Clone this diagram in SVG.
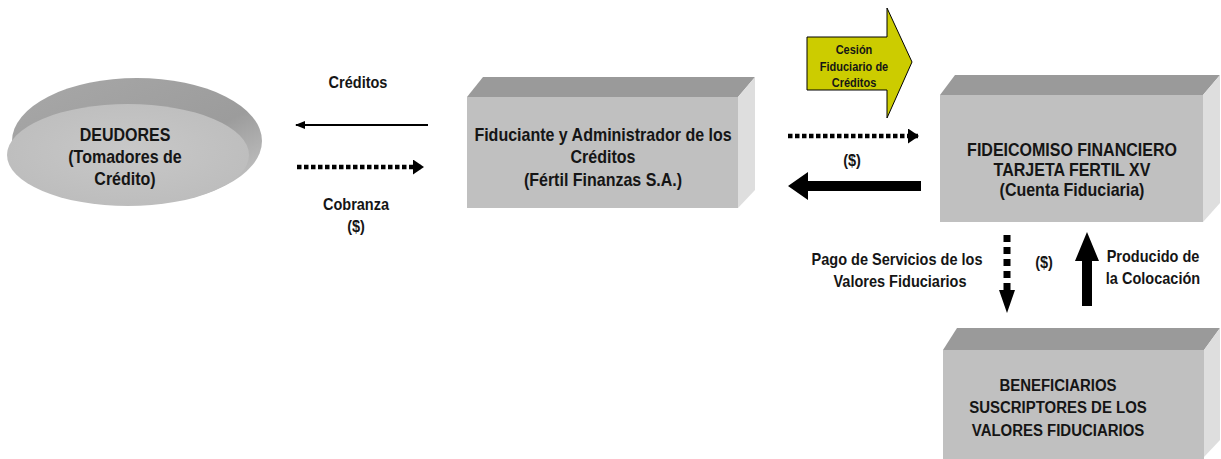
<svg xmlns="http://www.w3.org/2000/svg" width="1221" height="459" viewBox="0 0 1221 459">
<defs>
<linearGradient id="rim" x1="0" y1="0" x2="1" y2="1">
<stop offset="0" stop-color="#a8a8a8"/>
<stop offset="0.6" stop-color="#9c9c9c"/>
<stop offset="1" stop-color="#d0d0d0"/>
</linearGradient>
<radialGradient id="face" cx="0.5" cy="0.45" r="0.6">
<stop offset="0" stop-color="#c8c8c8"/>
<stop offset="1" stop-color="#bcbcbc"/>
</radialGradient>
<marker id="hSmall" viewBox="0 0 10 10" refX="9" refY="5" markerWidth="10" markerHeight="10" markerUnits="userSpaceOnUse" orient="auto">
<path d="M0,1 L10,5 L0,9 Z" fill="#000"/>
</marker>
<marker id="hDot" viewBox="0 0 11 15" refX="10" refY="7.5" markerWidth="11" markerHeight="15" markerUnits="userSpaceOnUse" orient="auto">
<path d="M0,0 L11,7.5 L0,15 Z" fill="#000"/>
</marker>
</defs>
<style>
text{font-family:"Liberation Sans",Arial,sans-serif;font-weight:bold;fill:#151515;text-anchor:middle}
.n{font-size:18.2px}
.b{font-size:17px}
.l{font-size:16.5px}
.y{font-size:12.5px}
.top{fill:#9a9a9a}
.front{fill:#c0c0c0}
.side{fill:#dedede}
.dot{stroke:#000;stroke-width:4.5;stroke-dasharray:4.5 2.5;fill:none}
</style>

<g id="deudores">
<ellipse cx="137" cy="141" rx="125" ry="63" fill="url(#rim)"/>
<ellipse cx="128" cy="155" rx="121" ry="51" fill="url(#face)"/>
<text class="n" transform="matrix(0.88 0 0 1 125 0)" x="0" y="141">DEUDORES</text>
<text class="n" transform="matrix(0.88 0 0 1 125 0)" x="0" y="163">(Tomadores de</text>
<text class="n" transform="matrix(0.88 0 0 1 125 0)" x="0" y="185">Crédito)</text>
</g>

<g id="fiduciante">
<path class="top" d="M467,97 L483,77 L755,77 L738,97 Z"/>
<path class="front" d="M467,97 L738,97 L738,208 L467,208 Z"/>
<path class="side" d="M738,97 L755,77 L755,190 L738,208 Z"/>
<text class="n" transform="matrix(0.88 0 0 1 603 0)" x="0" y="141">Fiduciante y Administrador de los</text>
<text class="n" transform="matrix(0.88 0 0 1 603 0)" x="0" y="163">Créditos</text>
<text class="n" transform="matrix(0.88 0 0 1 603 0)" x="0" y="186">(Fértil Finanzas S.A.)</text>
</g>

<g id="fideicomiso">
<path class="top" d="M940,95 L955,75 L1220,75 L1203,95 Z"/>
<path class="front" d="M940,95 L1203,95 L1203,222 L940,222 Z"/>
<path class="side" d="M1203,95 L1220,75 L1220,203 L1203,222 Z"/>
<text class="n" transform="matrix(0.88 0 0 1 1072 0)" x="0" y="156">FIDEICOMISO FINANCIERO</text>
<text class="n" transform="matrix(0.88 0 0 1 1072 0)" x="0" y="176">TARJETA FERTIL XV</text>
<text class="n" transform="matrix(0.88 0 0 1 1072 0)" x="0" y="196">(Cuenta Fiduciaria)</text>
</g>

<g id="beneficiarios">
<path class="top" d="M943,350 L957,328 L1220,328 L1204,350 Z"/>
<path class="front" d="M943,350 L1204,350 L1204,459 L943,459 Z"/>
<path class="side" d="M1204,350 L1220,328 L1220,440 L1204,457 Z"/>
<text class="b" transform="matrix(0.88 0 0 1 1058 0)" x="0" y="391">BENEFICIARIOS</text>
<text class="b" transform="matrix(0.88 0 0 1 1058 0)" x="0" y="413">SUSCRIPTORES DE LOS</text>
<text class="b" transform="matrix(0.88 0 0 1 1058 0)" x="0" y="436">VALORES FIDUCIARIOS</text>
</g>

<g id="cesion">
<path d="M807,37 L887,37 L887,8 L912,62 L887,118 L887,90 L807,90 Z" fill="#cccc00" stroke="#000" stroke-width="1"/>
<text class="y" transform="matrix(0.88 0 0 1 854 0)" x="0" y="54">Cesión</text>
<text class="y" transform="matrix(0.88 0 0 1 854 0)" x="0" y="71">Fiduciario de</text>
<text class="y" transform="matrix(0.88 0 0 1 854 0)" x="0" y="87">Créditos</text>
</g>

<g id="connectors">
<line x1="428" y1="125" x2="296" y2="125" stroke="#000" stroke-width="2" marker-end="url(#hSmall)"/>
<line class="dot" x1="297" y1="167" x2="423" y2="167" marker-end="url(#hDot)"/>
<line class="dot" x1="788" y1="136" x2="918" y2="136" marker-end="url(#hDot)"/>
<path d="M921,181 L808,181 L808,172 L788,186 L808,200 L808,191 L921,191 Z" fill="#000"/>
<line class="dot" x1="1007" y1="235" x2="1007" y2="292" style="stroke-width:7;stroke-dasharray:7 5"/>
<path d="M999,290 L1015,290 L1007,313 Z" fill="#000"/>
<path d="M1082,306 L1082,261 L1075,261 L1087,232 L1099,261 L1092,261 L1092,306 Z" fill="#000"/>
</g>

<g id="labels">
<text class="l" transform="matrix(0.88 0 0 1 358 0)" x="0" y="88">Créditos</text>
<text class="l" transform="matrix(0.88 0 0 1 356 0)" x="0" y="210">Cobranza</text>
<text class="l" transform="matrix(0.88 0 0 1 356 0)" x="0" y="232">($)</text>
<text class="l" transform="matrix(0.88 0 0 1 852 0)" x="0" y="166">($)</text>
<text class="l" transform="matrix(0.88 0 0 1 897 0)" x="0" y="265">Pago de Servicios de los</text>
<text class="l" transform="matrix(0.88 0 0 1 900 0)" x="0" y="287">Valores Fiduciarios</text>
<text class="l" transform="matrix(0.88 0 0 1 1044 0)" x="0" y="268">($)</text>
<text class="l" transform="matrix(0.88 0 0 1 1153 0)" x="0" y="262">Producido de</text>
<text class="l" transform="matrix(0.88 0 0 1 1153 0)" x="0" y="284">la Colocación</text>
</g>
</svg>
